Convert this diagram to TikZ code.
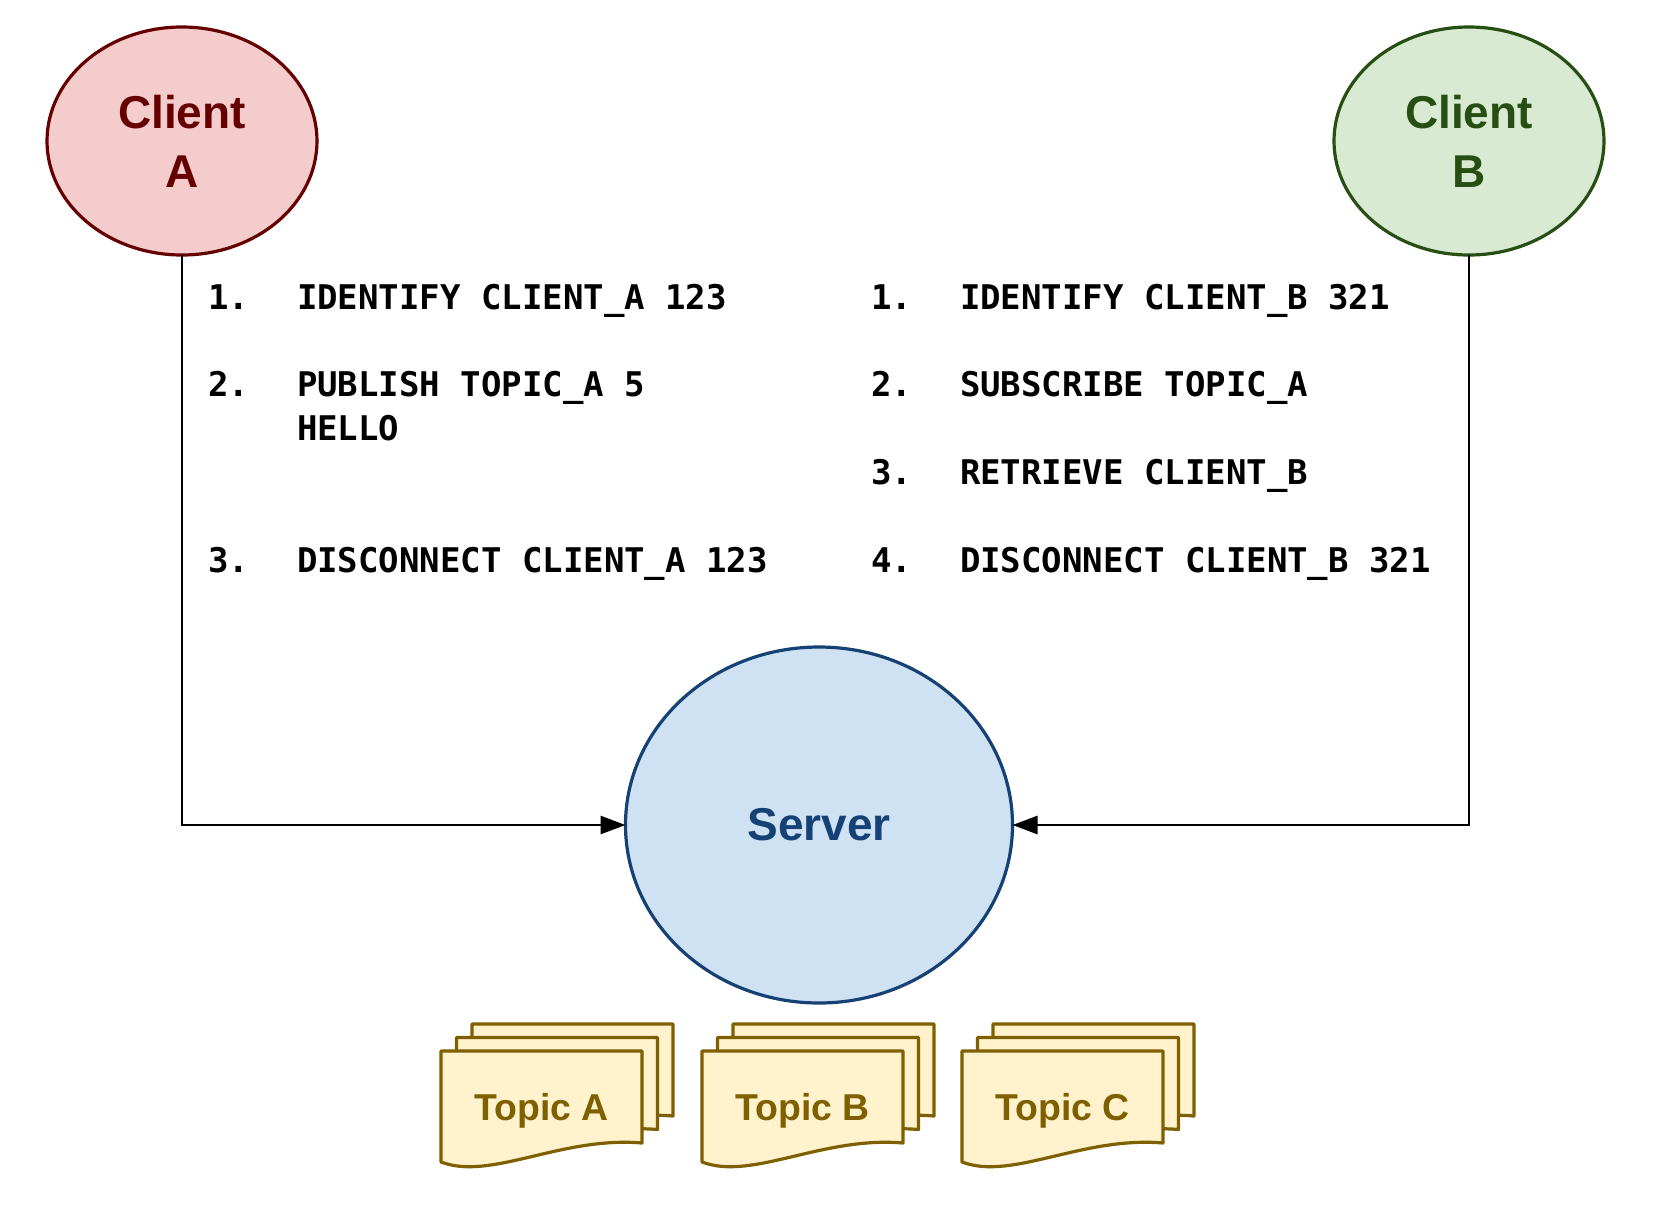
\documentclass[tikz,border=0pt]{standalone}
\usepackage{fontspec}
\setmainfont{Liberation Sans}
\newfontfamily\codefont{DejaVu Sans Mono}
\usetikzlibrary{shapes,shapes.geometric,arrows,arrows.meta}

\definecolor{clientAfill}{HTML}{F4CCCC}
\definecolor{clientAline}{HTML}{660000}
\definecolor{clientBfill}{HTML}{D9EAD3}
\definecolor{clientBline}{HTML}{274E13}
\definecolor{serverfill}{HTML}{CFE2F3}
\definecolor{serverline}{HTML}{164174}
\definecolor{topicfill}{HTML}{FFF2CC}
\definecolor{topicline}{HTML}{7F6000}

%% three stacked pages, front page top left at (#1,#2)
\newcommand{\topicstack}[4]{%
	\foreach \k in {2,1,0} {
		\draw [topicpage , shift={(#1+15.5*\k,#2-13.5*\k)}]  (0,0) -- (201,0) -- (201,92) .. controls (120,85) and (50,130) .. (0,111) -- cycle;
	}
	\node [topictext]  (#3)  at (#1+100.5,#2+69)  {#4};
}

\begin{document}
\begin{tikzpicture}[x=0.5pt,y=-0.5pt]
	\tikzstyle{every node}=[inner sep=0pt, outer sep=0pt]
	\tikzstyle{client}=[ellipse, line width=1.6pt, minimum width=135pt, minimum height=114pt, align=center, font=\bfseries\fontsize{23}{29.5}\selectfont]
	\tikzstyle{cmd}=[anchor=base west, font=\codefont\bfseries\fontsize{17}{22}\selectfont]
	\tikzstyle{link}=[line width=1.4pt, -{Triangle[length=12.5pt,width=9pt]}]
	\tikzstyle{topicpage}=[line width=1.6pt, draw=topicline, fill=topicfill, line join=round]
	\tikzstyle{topictext}=[anchor=base, text=topicline, font=\bfseries\fontsize{18.7}{22}\selectfont]

	\useasboundingbox (0,0) rectangle (1662,1206);

	%% clients and server
	\node [client, draw=clientAline, fill=clientAfill, text=clientAline]  (clientA)  at (182,141)  {Client\\A};
	\node [client, draw=clientBline, fill=clientBfill, text=clientBline]  (clientB)  at (1469,141)  {Client\\B};
	\node [client, minimum width=193.5pt, minimum height=178pt, draw=serverline, fill=serverfill, text=serverline]  (server)  at (819,825)  {Server};

	\draw [link]  (clientA.south) |- (server.west);
	\draw [link]  (clientB.south) |- (server.east);

	%% commands of client A
	\node [cmd]  (a1n)  at (208,309)  {1.};
	\node [cmd]  (a1)  at (297,309)  {IDENTIFY CLIENT\_A 123};
	\node [cmd]  (a2n)  at (208,396)  {2.};
	\node [cmd]  (a2)  at (297,396)  {PUBLISH TOPIC\_A 5};
	\node [cmd]  (a2b)  at (297,440)  {HELLO};
	\node [cmd]  (a3n)  at (208,572)  {3.};
	\node [cmd]  (a3)  at (297,572)  {DISCONNECT CLIENT\_A 123};

	%% commands of client B
	\node [cmd]  (b1n)  at (871,309)  {1.};
	\node [cmd]  (b1)  at (960,309)  {IDENTIFY CLIENT\_B 321};
	\node [cmd]  (b2n)  at (871,396)  {2.};
	\node [cmd]  (b2)  at (960,396)  {SUBSCRIBE TOPIC\_A};
	\node [cmd]  (b3n)  at (871,484)  {3.};
	\node [cmd]  (b3)  at (960,484)  {RETRIEVE CLIENT\_B};
	\node [cmd]  (b4n)  at (871,572)  {4.};
	\node [cmd]  (b4)  at (960,572)  {DISCONNECT CLIENT\_B 321};

	%% topics
	\topicstack{441}{1051}{topicA}{Topic A}
	\topicstack{702}{1051}{topicB}{Topic B}
	\topicstack{962}{1051}{topicC}{Topic C}

\end{tikzpicture}
\end{document}
